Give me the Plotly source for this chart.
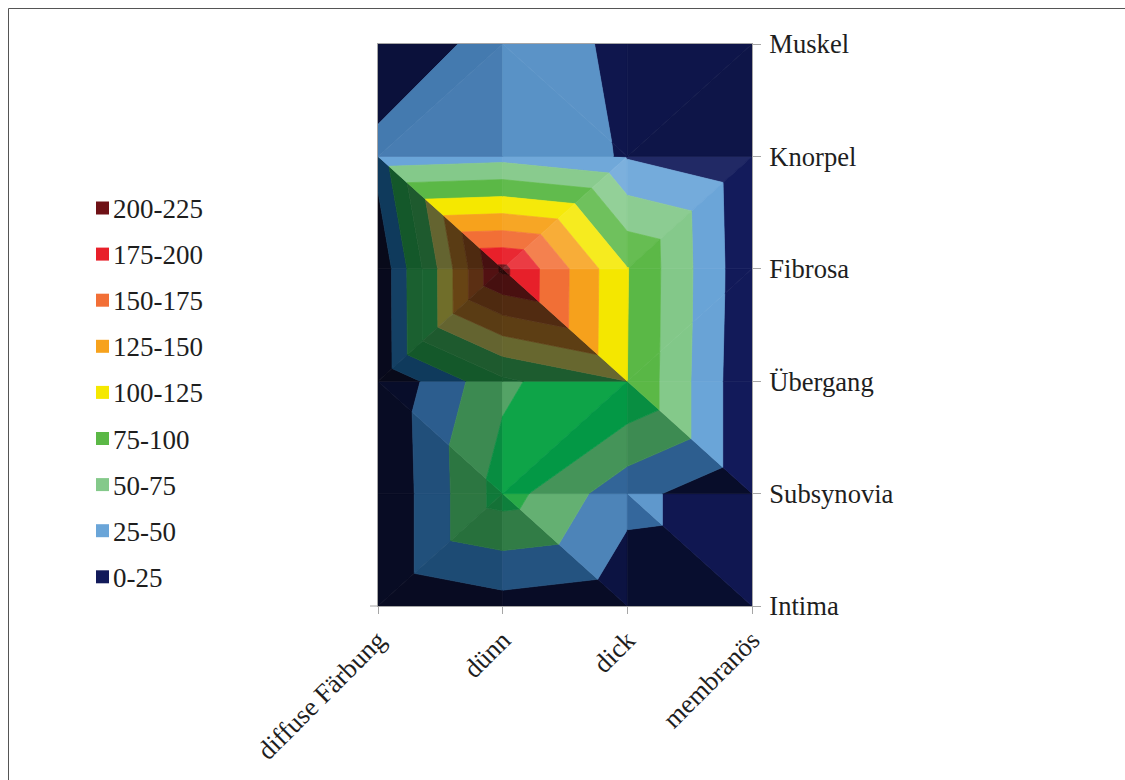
import numpy as np
import plotly.graph_objects as go

# ---- data -------------------------------------------------------------
categories = ["diffuse Färbung", "dünn", "dick", "membranös"]
layers = ["Intima", "Subsynovia", "Übergang", "Fibrosa", "Knorpel", "Muskel"]

# one list per layer, values per category
intima = [0, 15, 6, 2]
subsynovia = [0, 86, 34, 2]
uebergang = [2, 70, 100, 2]
fibrosa = [3, 206, 101, 4]
knorpel = [35, 41, 23, 2]
muskel = [0, 39, 20, 8]

band_labels = ["0-25", "25-50", "50-75", "75-100", "100-125",
               "125-150", "150-175", "175-200", "200-225"]

# ---- band styling: lit colour, half-lit tone and shadow tone -----------
band_colors = ["#121a5a", "#6aa5d8", "#84c98a", "#5bb846", "#f5e800",
               "#f7a21c", "#f26f36", "#e8202a", "#6f1116"]
band_half = ["#080e30", "#376aa0", "#4b9c5f", "#00a048", "#c2b800",
             "#c27a16", "#b8502a", "#aa1820", "#4a0c10"]
band_shadow = ["#080a1a", "#0f3a5c", "#14582a", "#1e5a2e", "#646430",
               "#5a3c14", "#4e2a10", "#461010", "#2a0808"]

# ---- layout geometry --------------------------------------------------
FIG_W, FIG_H = 1125, 780
M_L, M_R, M_T, M_B = 378, 373, 44, 174
PLOT_W = FIG_W - M_L - M_R
PLOT_H = FIG_H - M_T - M_B

FONT = "Liberation Serif, Times New Roman, serif"
TEXT_COLOR = "#1e1e1e"
AXIS_COLOR = "#a6a6a6"

grid = np.array([intima, subsynovia, uebergang, fibrosa, knorpel, muskel], float)
n_rows, n_cols = grid.shape
band_edges = [(float(a), float(b)) for a, b in (lbl.split("-") for lbl in band_labels)]

# 3-D box proportions and light used for every facet
PX_X = PLOT_W / (n_cols - 1)
PX_Y = PLOT_H / (n_rows - 1)
PX_Z = 1.66
AMBIENT = 0.647
LIGHT = np.array([0.29, 0.31, 0.20])
I_SHADOW, I_HALF = 0.40, 0.75


def hex_rgb(h):
    h = h.lstrip("#")
    return np.array([int(h[i:i + 2], 16) for i in (0, 2, 4)], float)


def shade(k, inten):
    lit, half, dark = hex_rgb(band_colors[k]), hex_rgb(band_half[k]), hex_rgb(band_shadow[k])
    inten = float(np.clip(inten, I_SHADOW, 1.25))
    if inten <= I_HALF:
        t = (inten - I_SHADOW) / (I_HALF - I_SHADOW)
        out = dark + (half - dark) * t
    elif inten <= 1.0:
        t = (inten - I_HALF) / (1.0 - I_HALF)
        out = half + (lit - half) * t
    else:
        out = lit + (255.0 - lit) * (inten - 1.0) * 1.1
    out = np.clip(np.round(out), 0, 255).astype(int)
    return "rgb(%d,%d,%d)" % tuple(out)


def facet_intensity(tri):
    p = np.array([[x * PX_X, y * PX_Y, v * PX_Z] for x, y, v in tri])
    n = np.cross(p[1] - p[0], p[2] - p[0])
    if n[2] < 0:
        n = -n
    n = n / np.linalg.norm(n)
    return AMBIENT + float(n @ LIGHT)


def clip(poly, level, keep_above):
    out = []
    for k in range(len(poly)):
        a, b = poly[k], poly[(k + 1) % len(poly)]
        ina = a[2] >= level if keep_above else a[2] <= level
        inb = b[2] >= level if keep_above else b[2] <= level
        if ina:
            out.append(a)
        if ina != inb:
            t = (level - a[2]) / (b[2] - a[2])
            out.append(tuple(a[m] + t * (b[m] - a[m]) for m in range(3)))
    return out


def area(poly):
    xs = np.array([p[0] for p in poly])
    ys = np.array([p[1] for p in poly])
    return 0.5 * abs(np.dot(xs, np.roll(ys, 1)) - np.dot(ys, np.roll(xs, 1)))


# split every grid cell into two triangles along its higher diagonal
triangles = []
for j in range(n_rows - 1):
    for i in range(n_cols - 1):
        bl = (i, j, grid[j, i])
        br = (i + 1, j, grid[j, i + 1])
        tl = (i, j + 1, grid[j + 1, i])
        tr = (i + 1, j + 1, grid[j + 1, i + 1])
        if tl[2] + br[2] >= tr[2] + bl[2]:
            triangles += [(tl, br, bl), (tl, tr, br)]
        else:
            triangles += [(bl, tr, tl), (bl, br, tr)]

fig = go.Figure()

for tri in triangles:
    inten = facet_intensity(tri)
    for k, (lo, hi) in enumerate(band_edges):
        poly = clip(list(tri), lo, True)
        if len(poly) < 3:
            continue
        poly = clip(poly, hi, False)
        if len(poly) < 3 or area(poly) < 1e-7:
            continue
        c = shade(k, inten)
        xs = [p[0] for p in poly] + [poly[0][0]]
        ys = [p[1] for p in poly] + [poly[0][1]]
        fig.add_trace(go.Scatter(
            x=xs, y=ys, mode="lines", fill="toself", fillcolor=c,
            line=dict(color=c, width=0.7), hoverinfo="skip", showlegend=False))


def paper_x(px):
    return (px - M_L) / PLOT_W


def paper_y(py):
    return (FIG_H - M_B - py) / PLOT_H


shapes = [
    # chart frame
    dict(type="rect", xref="paper", yref="paper",
         x0=paper_x(8.5), x1=paper_x(1135), y0=paper_y(795), y1=paper_y(8.5),
         line=dict(color="#555555", width=1), fillcolor="rgba(0,0,0,0)", layer="below"),
    # small stub left of the category axis
    dict(type="line", xref="paper", yref="paper",
         x0=paper_x(370), x1=0, y0=0, y1=0,
         line=dict(color=AXIS_COLOR, width=1)),
]
annotations = []

# legend: highest band first
LEG_TOP, LEG_STEP = 208, 46.1
for k, (lbl, col) in enumerate(zip(band_labels[::-1], band_colors[::-1])):
    cy = LEG_TOP + k * LEG_STEP
    shapes.append(dict(type="rect", xref="paper", yref="paper",
                       x0=paper_x(96), x1=paper_x(109),
                       y0=paper_y(cy + 6.5), y1=paper_y(cy - 6.5),
                       line=dict(width=0), fillcolor=col))
    annotations.append(dict(xref="paper", yref="paper", x=paper_x(110.5), y=paper_y(cy + 1),
                            text=lbl, showarrow=False, xanchor="left", yanchor="middle",
                            font=dict(family=FONT, size=27, color=TEXT_COLOR)))

fig.update_layout(
    width=FIG_W, height=FIG_H,
    margin=dict(l=M_L, r=M_R, t=M_T, b=M_B, pad=0),
    paper_bgcolor="white", plot_bgcolor="white",
    showlegend=False,
    shapes=shapes, annotations=annotations,
    xaxis=dict(range=[0, n_cols - 1], tickvals=list(range(n_cols)), ticktext=categories,
               tickangle=-45, ticks="outside", ticklen=7, tickcolor=AXIS_COLOR,
               showline=True, linecolor=AXIS_COLOR, linewidth=1, mirror=True,
               showgrid=False, zeroline=False,
               tickfont=dict(family=FONT, size=26.6, color=TEXT_COLOR)),
    yaxis=dict(range=[0, n_rows - 1], tickvals=list(range(n_rows)), ticktext=layers,
               side="right", ticks="outside", ticklen=8, tickcolor=AXIS_COLOR,
               ticklabelstandoff=3,
               showline=True, linecolor=AXIS_COLOR, linewidth=1, mirror=True,
               showgrid=False, zeroline=False,
               tickfont=dict(family=FONT, size=26.6, color=TEXT_COLOR)),
)

fig.write_html("out.html", config={"displayModeBar": False})
